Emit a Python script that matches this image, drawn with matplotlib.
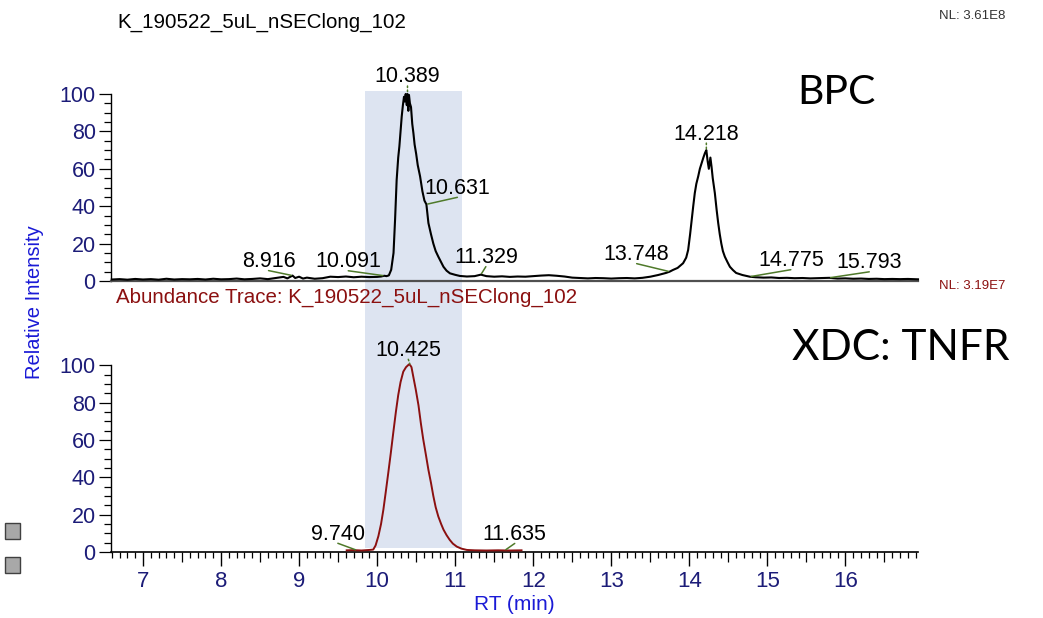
import numpy as np
import matplotlib
matplotlib.use("Agg")
import matplotlib.pyplot as plt
from matplotlib.patches import Rectangle
from matplotlib.ticker import MultipleLocator
import matplotlib.transforms as mtransforms

# ---- data ----
bpc_rt = [6.60, 6.70, 6.80, 6.90, 7.00, 7.10, 7.20, 7.30, 7.40, 7.50, 7.60, 7.70, 7.80,
          7.90, 8.00, 8.10, 8.20, 8.30, 8.40, 8.50, 8.60, 8.70, 8.80, 8.85, 8.916, 8.95,
          9.00, 9.05, 9.10, 9.20, 9.30, 9.40, 9.50, 9.60, 9.70, 9.80, 9.90, 10.00, 10.05,
          10.091, 10.12, 10.15, 10.18, 10.21, 10.23, 10.25, 10.27, 10.285, 10.30, 10.315,
          10.33, 10.344, 10.355, 10.366, 10.38, 10.389, 10.40, 10.408, 10.42, 10.434,
          10.45, 10.465, 10.48, 10.50, 10.52, 10.55, 10.58, 10.606, 10.631, 10.657, 10.69,
          10.72, 10.75, 10.784, 10.82, 10.85, 10.89, 10.933, 11.00, 11.06, 11.15, 11.25,
          11.329, 11.40, 11.50, 11.60, 11.70, 11.80, 11.90, 12.00, 12.10, 12.20, 12.30,
          12.40, 12.50, 12.60, 12.70, 12.80, 12.90, 13.00, 13.10, 13.20, 13.30, 13.40,
          13.50, 13.60, 13.70, 13.748, 13.79, 13.85, 13.92, 13.96, 13.985, 14.01, 14.03,
          14.05, 14.07, 14.09, 14.114, 14.135, 14.157, 14.18, 14.20, 14.218, 14.235,
          14.25, 14.27, 14.285, 14.30, 14.327, 14.35, 14.37, 14.39, 14.41, 14.43, 14.455,
          14.49, 14.52, 14.56, 14.60, 14.68, 14.775, 14.85, 14.95, 15.05, 15.15, 15.25,
          15.35, 15.45, 15.55, 15.65, 15.793, 15.90, 16.00, 16.10, 16.20, 16.30, 16.40,
          16.50, 16.60, 16.70, 16.80, 16.93]
bpc_int = [0.8, 1.0, 0.7, 1.1, 0.8, 1.0, 0.7, 1.2, 0.8, 1.0, 0.9, 1.1, 0.8,
           1.2, 0.9, 1.0, 1.3, 0.9, 1.1, 1.4, 1.0, 1.6, 2.2, 1.4, 2.9, 1.6,
           2.3, 1.3, 1.8, 1.2, 1.5, 2.3, 2.1, 2.4, 2.0, 2.3, 2.1, 2.2, 2.4,
           2.8, 2.6, 3.0, 6.0, 15, 33, 54, 66, 72, 80, 88,
           94, 98.5, 96, 100, 94, 100, 91, 99.5, 95, 93,
           84, 79, 73, 68, 62, 56, 48, 43, 41, 31, 25,
           20, 16, 13, 10, 7.6, 5.5, 4.1, 3.3, 2.7, 2.4, 2.6,
           3.4, 2.6, 2.3, 2.5, 2.2, 2.4, 2.3, 2.6, 2.9, 3.1, 2.8,
           2.4, 1.8, 1.6, 1.4, 1.6, 1.5, 1.3, 1.5, 1.6, 1.4, 1.7,
           2.3, 3.2, 4.3, 5.0, 5.9, 7.0, 9.5, 12.5, 16.6, 25, 32.6,
           40, 47, 52, 56, 60, 63, 66, 68.4, 70, 64,
           60, 66, 61, 55, 47, 38, 31, 25, 20, 16, 13,
           10, 7.6, 5.8, 4.3, 3.2, 2.3, 2.0, 1.8, 1.9, 1.6, 1.7,
           1.5, 1.6, 1.4, 1.5, 1.7, 1.3, 1.4, 1.2, 1.3, 1.1, 1.2,
           1.0, 1.1, 1.0, 1.1, 0.9]

xdc_rt = [9.61, 9.70, 9.80, 9.90, 9.95, 9.98, 10.016, 10.05, 10.08, 10.11, 10.143,
          10.175, 10.207, 10.24, 10.27, 10.30, 10.335, 10.37, 10.408, 10.425, 10.44,
          10.46, 10.495, 10.53, 10.56, 10.59, 10.625, 10.657, 10.69, 10.72, 10.75,
          10.784, 10.82, 10.85, 10.89, 10.93, 10.97, 11.02, 11.08, 11.15, 11.25, 11.40,
          11.55, 11.70, 11.85]
xdc_int = [0.9, 1.0, 0.8, 1.1, 1.3, 3.5, 8.5, 15, 22.7, 32, 42.5,
           53, 64, 75, 84, 91, 96.6, 99, 100.5, 100, 99,
           94.6, 87, 78.5, 69, 60.5, 52, 44, 37, 30, 24,
           19, 15, 12, 9, 6.5, 4.5, 2.9, 1.8, 1.1, 0.9, 0.8,
           0.9, 0.8, 0.9]

bpc_peaks = [8.916, 10.091, 10.389, 10.631, 11.329, 13.748, 14.218, 14.775, 15.793]
xdc_peaks = [9.740, 10.425, 11.635]

window = (9.845, 11.083)
file_name = "K_190522_5uL_nSEClong_102"
nl_bpc = "NL: 3.61E8"
nl_xdc = "NL: 3.19E7"

# label offsets (pixels) from each peak point
bpc_offsets = [(-24, 14), (-36, 14), (0, 17), (31, 16), (5, 17), (-33, 17), (0, 16), (41, 16), (40, 15)]
xdc_offsets = [(-19, 16), (-2, 15), (10, 16)]

plt.rcParams['font.family'] = ['Liberation Sans', 'DejaVu Sans']

W, H = 1043, 618
fig = plt.figure(figsize=(W / 100, H / 100), dpi=100)
ax1 = fig.add_axes([111 / W, 1 - 281 / H, 807 / W, 187 / H])
ax2 = fig.add_axes([111 / W, 1 - 552 / H, 807 / W, 186.7 / H])

navy = '#1c1c78'
olive = '#4f7a2a'
xlim = (6.59, 16.93)

for ax in (ax1, ax2):
    ax.set_facecolor('none')
    ax.set_xlim(*xlim)
    ax.set_ylim(0, 100)
    for s in ('top', 'right'):
        ax.spines[s].set_visible(False)
    ax.spines['left'].set_linewidth(1.0)
    ax.yaxis.set_major_locator(MultipleLocator(20))
    ax.yaxis.set_minor_locator(MultipleLocator(5))
    ax.tick_params(axis='y', which='major', length=9, width=0.9, labelsize=15.5,
                   labelcolor=navy, pad=2)
    ax.tick_params(axis='y', which='minor', length=5, width=0.9)

ax1.tick_params(axis='x', which='both', bottom=False, labelbottom=False)
ax1.spines['bottom'].set_color('#505050')
ax1.spines['bottom'].set_linewidth(1.6)

ax2.spines['bottom'].set_linewidth(1.2)
ax2.xaxis.set_major_locator(MultipleLocator(1))
ax2.xaxis.set_minor_locator(MultipleLocator(0.1))
ax2.tick_params(axis='x', which='major', length=10, width=1.0, labelsize=16,
                labelcolor=navy, pad=4)
ax2.tick_params(axis='x', which='minor', length=4, width=0.9)

# shaded RT window across both panels
trans = mtransforms.blended_transform_factory(ax2.transData, fig.transFigure)
fig.patches.append(Rectangle((window[0], 1 - 548 / H), window[1] - window[0],
                             (548 - 91) / H, transform=trans, facecolor='#dde4f1',
                             edgecolor='none', zorder=-1))

ax1.plot(bpc_rt, bpc_int, color='black', lw=1.5, clip_on=False, zorder=3)
ax2.plot(xdc_rt, xdc_int, color='#8b1010', lw=1.4, clip_on=False, zorder=3)


def label_peaks(ax, rts, xs, ys, offsets):
    for rt, off in zip(rts, offsets):
        y = np.interp(rt, xs, ys)
        dotted = abs(off[0]) < 3
        ax.annotate(f"{rt:.3f}", xy=(rt, y), xytext=off, textcoords='offset pixels',
                    ha='center', va='center', fontsize=15.5, color='black',
                    annotation_clip=False, zorder=4)
        # leader line from just under the label to the peak apex
        ax.annotate("", xy=(rt, y), xytext=(off[0], off[1] - 9),
                    textcoords='offset pixels', annotation_clip=False,
                    arrowprops=dict(arrowstyle='-', color=olive, lw=1.1,
                                    ls=':' if dotted else '-',
                                    shrinkA=0, shrinkB=1))


label_peaks(ax1, bpc_peaks, bpc_rt, bpc_int, bpc_offsets)
label_peaks(ax2, xdc_peaks, xdc_rt, xdc_int, xdc_offsets)

ax2.set_xlabel("RT (min)", fontsize=15, color='#1a1ad6', labelpad=2)
fig.text(35 / W, 1 - 302 / H, "Relative Intensity", rotation=90, ha='center',
         va='center', fontsize=14.5, color='#1a1ad6')

fig.text(117 / W, 1 - 22 / H, file_name, ha='left', va='center', fontsize=14.8,
         color='black')
fig.text(1005 / W, 1 - 16 / H, nl_bpc, ha='right', va='center', fontsize=9.5,
         color='#333333')
fig.text(116 / W, 1 - 297 / H, "Abundance Trace: " + file_name, ha='left',
         va='center', fontsize=14.8, color='#8b1010')
fig.text(1005 / W, 1 - 286 / H, nl_xdc, ha='right', va='center', fontsize=9.5,
         color='#8b1010')

fig.text(836 / W, 1 - 93 / H, "BPC", ha='center', va='center', fontsize=29.5,
         family='Lato', color='black')
fig.text(901 / W, 1 - 348 / H, "XDC: TNFR", ha='center', va='center', fontsize=30.5,
         family='Lato', color='black')

# side widget squares
for yc in (531, 565):
    fig.patches.append(Rectangle((5 / W, 1 - (yc + 8) / H), 15 / W, 16 / H,
                                 transform=fig.transFigure, facecolor='#a8a8a8',
                                 edgecolor='#404040', lw=1.0))

# longer ticks at the half-minute marks
fig.canvas.draw()
for tick in ax2.xaxis.get_minor_ticks():
    loc = tick.get_loc()
    if abs((loc * 2) - round(loc * 2)) < 1e-6 and abs(loc - round(loc)) > 1e-6:
        tick.tick1line.set_markersize(7)

fig.savefig("out.png", dpi=100)
